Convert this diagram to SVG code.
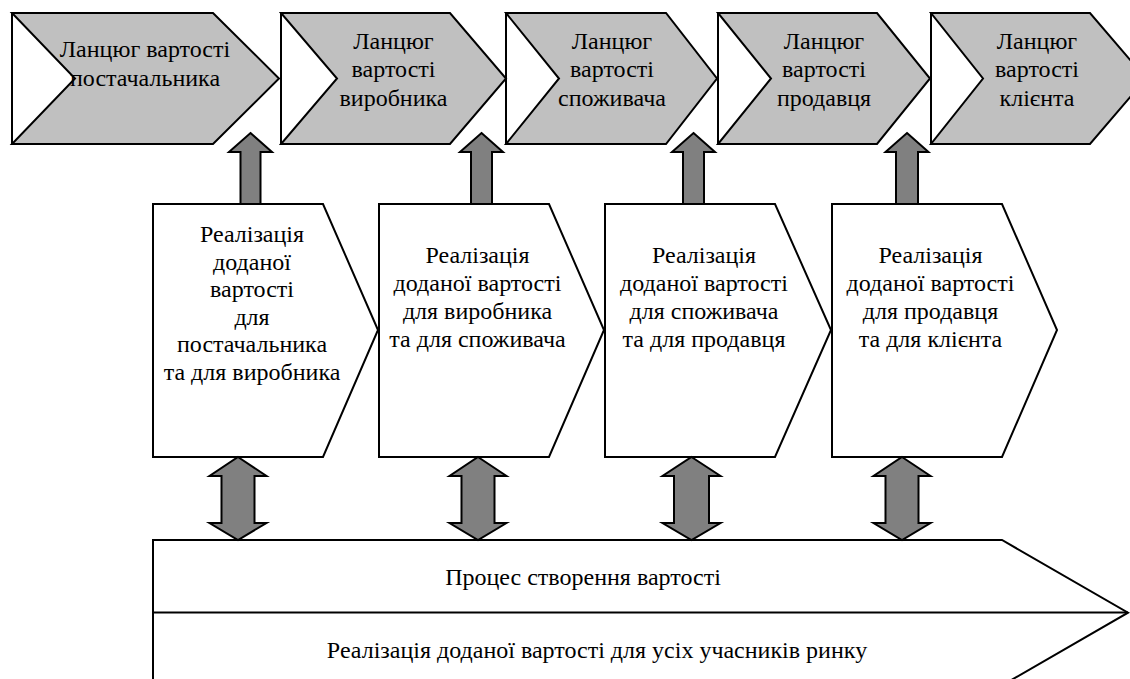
<svg xmlns="http://www.w3.org/2000/svg" width="1130" height="679" viewBox="0 0 1130 679">
<style>
.chev{fill:#c0c0c0;stroke:#000;stroke-width:2;stroke-linejoin:miter}
.edge{stroke:#000;stroke-width:2;fill:none}
.pent{fill:#fff;stroke:#000;stroke-width:2}
.arr{fill:#808080;stroke:#000;stroke-width:2;stroke-linejoin:miter}
text{font-family:"Liberation Serif","Times New Roman",serif;font-size:24px;fill:#000;text-anchor:middle}
</style>
<rect width="1130" height="679" fill="#fff"/>
<g id="chain-supplier">
<polygon class="chev" points="12,13 213,13 279,78.5 213,144 12,144 75,78.5"/>
<line class="edge" x1="12" y1="13" x2="12" y2="144"/>
<text x="145" y="57">Ланцюг вартості</text>
<text x="145" y="86">постачальника</text>
</g>
<g id="chain-producer">
<polygon class="chev" points="281,13 450,13 506,78.5 450,144 281,144 337,78.5"/>
<line class="edge" x1="281" y1="13" x2="281" y2="144"/>
<text x="393.5" y="49">Ланцюг</text>
<text x="393.5" y="77">вартості</text>
<text x="393.5" y="106">виробника</text>
</g>
<g id="chain-consumer">
<polygon class="chev" points="506,13 666,13 717,78.5 666,144 506,144 559,78.5"/>
<line class="edge" x1="506" y1="13" x2="506" y2="144"/>
<text x="612" y="49">Ланцюг</text>
<text x="612" y="77">вартості</text>
<text x="612" y="106">споживача</text>
</g>
<g id="chain-seller">
<polygon class="chev" points="718,13 877,13 930,78.5 877,144 718,144 771,78.5"/>
<line class="edge" x1="718" y1="13" x2="718" y2="144"/>
<text x="824" y="49">Ланцюг</text>
<text x="824" y="77">вартості</text>
<text x="824" y="106">продавця</text>
</g>
<g id="chain-client">
<polygon class="chev" points="931,13 1090,13 1146,78.5 1090,144 931,144 983,78.5"/>
<line class="edge" x1="931" y1="13" x2="931" y2="144"/>
<text x="1037" y="49">Ланцюг</text>
<text x="1037" y="77">вартості</text>
<text x="1037" y="106">клієнта</text>
</g>
<g id="value-supplier-producer">
<polygon class="pent" points="153,204 323,204 378,330 323,457 153,457"/>
<text x="252" y="242">Реалізація</text>
<text x="252" y="270">доданої</text>
<text x="252" y="297">вартості</text>
<text x="252" y="325">для</text>
<text x="252" y="352">постачальника</text>
<text x="252" y="380">та для виробника</text>
</g>
<g id="value-producer-consumer">
<polygon class="pent" points="379,204 549,204 604,330 549,457 379,457"/>
<text x="477.5" y="263">Реалізація</text>
<text x="477.5" y="291">доданої вартості</text>
<text x="477.5" y="319">для виробника</text>
<text x="477.5" y="347">та для споживача</text>
</g>
<g id="value-consumer-seller">
<polygon class="pent" points="605,204 775,204 831,330 775,457 605,457"/>
<text x="704" y="263">Реалізація</text>
<text x="704" y="291">доданої вартості</text>
<text x="704" y="319">для споживача</text>
<text x="704" y="347">та для продавця</text>
</g>
<g id="value-seller-client">
<polygon class="pent" points="832,204 1002,204 1057,330 1002,457 832,457"/>
<text x="930.5" y="263">Реалізація</text>
<text x="930.5" y="291">доданої вартості</text>
<text x="930.5" y="319">для продавця</text>
<text x="930.5" y="347">та для клієнта</text>
</g>
<g id="value-creation-process">
<polygon class="pent" points="153,540 1002,540 1128,612.7 1002,685.4 153,685.4"/>
<line class="edge" x1="153" y1="612.5" x2="1128" y2="612.5"/>
<text x="583" y="585">Процес створення вартості</text>
<text x="597" y="658">Реалізація доданої вартості для усіх учасників ринку</text>
</g>
<g id="connectors">
<polygon class="arr" points="250.5,133 272,152 260.5,152 260.5,204 240.5,204 240.5,152 229,152"/>
<polygon class="arr" points="481.5,133 503,152 492,152 492,204 471,204 471,152 460,152"/>
<polygon class="arr" points="693.5,133 715,152 704,152 704,204 683,204 683,152 672,152"/>
<polygon class="arr" points="907,133 928.5,152 918,152 918,204 896,204 896,152 885.5,152"/>
<polygon class="arr" points="238,457 266.5,476 254.5,476 254.5,523 266.5,523 238,540 209.5,523 221.5,523 221.5,476 209.5,476"/>
<polygon class="arr" points="478,457 506.5,476 494.5,476 494.5,523 506.5,523 478,540 449.5,523 461.5,523 461.5,476 449.5,476"/>
<polygon class="arr" points="691.5,457 720.5,476 709,476 709,523 720.5,523 691.5,540 662.5,523 674,523 674,476 662.5,476"/>
<polygon class="arr" points="902,457 930.5,476 918.5,476 918.5,523 930.5,523 902,540 873.5,523 885.5,523 885.5,476 873.5,476"/>
</g>
</svg>
